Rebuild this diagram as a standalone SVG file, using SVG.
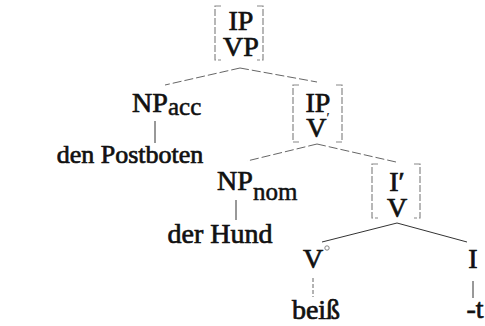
<svg xmlns="http://www.w3.org/2000/svg" width="485" height="326" viewBox="0 0 485 326">
<style>
text{font-family:"Liberation Serif","Times New Roman",serif;fill:#111;}
.lab{font-size:28px;stroke:#111;stroke-width:0.7px;}
.sub{font-size:25px;stroke:#111;stroke-width:0.5px;}
.br{fill:none;stroke:#888;stroke-width:1.2;stroke-dasharray:7 2;}
.ln{fill:none;stroke:#666;stroke-width:1;stroke-dasharray:9 3;}
.sl{fill:none;stroke:#333;stroke-width:1;}
</style>
<rect width="485" height="326" fill="#fff"/>
<g id="connectors">
<path class="ln" d="M240,68 L165,85"/>
<path class="ln" d="M240,68 L317,82"/>
<path class="sl" d="M155,121 V143"/>
<path class="ln" d="M317,144 L247,161"/>
<path class="ln" d="M317,144 L396,162"/>
<path class="sl" d="M236,200 V220"/>
<path class="sl" d="M397,223 L322,242"/>
<path class="sl" d="M397,223 L467,242"/>
<path class="ln" d="M313,278 V297" style="stroke-dasharray:4 2"/>
<path class="sl" d="M473,281 V298"/>
</g>
<g id="n-ip-vp">
<path class="br" d="M221,6 H215 V60 H221"/>
<path class="br" d="M257,6 H263 V60 H257"/>
<text class="lab" x="241" y="30" text-anchor="middle">IP</text>
<text class="lab" x="241" y="56" text-anchor="middle">VP</text>
</g>
<g id="n-npacc">
<text class="lab" x="132" y="112">NP</text>
<text class="sub" x="168" y="115">acc</text>
</g>
<g id="n-postboten">
<text class="lab" x="130" y="163" text-anchor="middle" style="font-size:26px">den Postboten</text>
</g>
<g id="n-ip-v">
<path class="br" d="M299,85 H293 V142 H299"/>
<path class="br" d="M336,85 H342 V142 H336"/>
<text class="lab" x="318" y="112" text-anchor="middle">IP</text>
<text class="lab" x="318" y="137" text-anchor="middle">V<tspan font-size="14" dy="-14" stroke-width="0.2">′</tspan></text>
</g>
<g id="n-npnom">
<text class="lab" x="217" y="190">NP</text>
<text class="sub" x="253" y="200">nom</text>
</g>
<g id="n-hund">
<text class="lab" x="220" y="243" text-anchor="middle">der Hund</text>
</g>
<g id="n-i1-v">
<path class="br" d="M378,164 H372 V218 H378"/>
<path class="br" d="M414,164 H420 V218 H414"/>
<text class="lab" x="397" y="191" text-anchor="middle">I′</text>
<text class="lab" x="397" y="217" text-anchor="middle">V</text>
</g>
<g id="n-v0">
<text class="lab" x="313" y="268" text-anchor="middle">V</text>
<circle cx="327" cy="248" r="2.2" fill="none" stroke="#777" stroke-width="0.9"/>
</g>
<g id="n-beiss">
<text class="lab" x="316" y="319" text-anchor="middle">beiß</text>
</g>
<g id="n-i">
<text class="lab" x="473" y="268" text-anchor="middle">I</text>
</g>
<g id="n-t">
<text class="lab" x="475" y="318" text-anchor="middle">-t</text>
</g>
</svg>
